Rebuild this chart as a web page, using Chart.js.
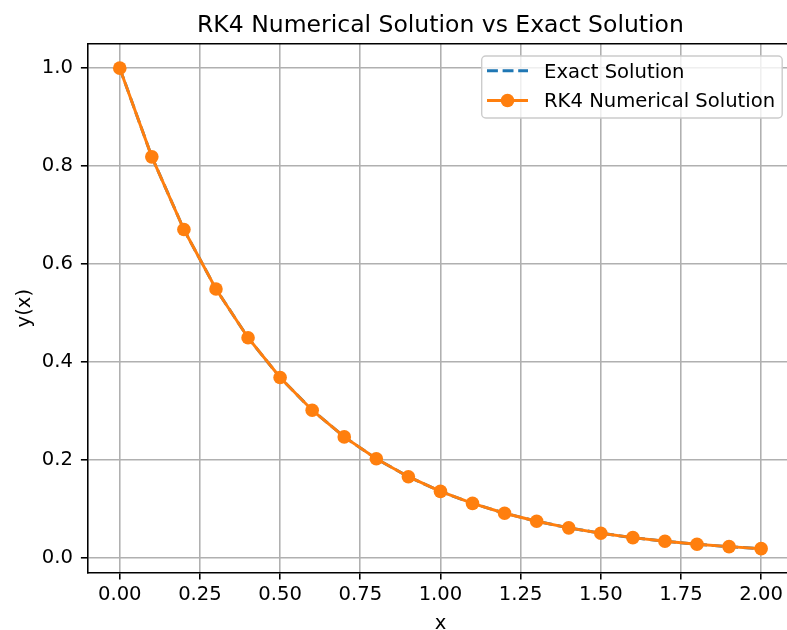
<!DOCTYPE html>
<html><head><meta charset="utf-8">
<script src="https://cdn.jsdelivr.net/npm/chart.js@4/dist/chart.umd.min.js"></script>
<style>
html,body{margin:0;padding:0;overflow:hidden;background:#fff;width:787px;height:630px}
#wrap{width:800px;height:630px}
</style>
</head><body><div id="wrap"><canvas id="c" width="800" height="630"></canvas></div>
<script>
const xValues = [0.0,0.1,0.2,0.3,0.4,0.5,0.6,0.7,0.8,0.9,1.0,1.1,1.2,1.3,1.4,1.5,1.6,1.7,1.8,1.9,2.0];
const exactValues = [1.0,0.8187,0.6703,0.5488,0.4493,0.3679,0.3012,0.2466,0.2019,0.1653,0.1353,0.1108,0.0907,0.0743,0.0608,0.0498,0.0408,0.0334,0.0273,0.0224,0.0183];
const rk4Values = [1.0,0.8187,0.6703,0.5488,0.4493,0.3679,0.3012,0.2466,0.2019,0.1653,0.1353,0.1108,0.0907,0.0743,0.0608,0.0498,0.0408,0.0334,0.0273,0.0224,0.0183];
const xTicks = [0.0,0.25,0.5,0.75,1.0,1.25,1.5,1.75,2.0];
const yTicks = [0.0,0.2,0.4,0.6,0.8,1.0];
const chartTitle = 'RK4 Numerical Solution vs Exact Solution';
const xLabel = 'x';
const yLabel = 'y(x)';
const seriesNames = ['Exact Solution','RK4 Numerical Solution'];

const FONT = 'DejaVu Sans';
const FS = 19.6;
const LW = 1.57;

const overlay = {
  id: 'overlay',
  afterDraw(chart) {
    const ctx = chart.ctx, a = chart.chartArea;
    ctx.save();
    // top spine
    ctx.strokeStyle = '#000'; ctx.lineWidth = LW;
    ctx.beginPath();
    ctx.moveTo(a.left, a.top); ctx.lineTo(a.right, a.top);
    ctx.stroke();
    // title
    ctx.fillStyle = '#000';
    ctx.font = '23.5px "' + FONT + '"';
    ctx.textAlign = 'center'; ctx.textBaseline = 'alphabetic';
    ctx.fillText(chartTitle, (a.left + a.right) / 2, 32.3);
    // legend
    const bx = 481.7, by = 56, bw = a.right - 11 - bx, bh = 62, r = 4;
    ctx.beginPath();
    ctx.moveTo(bx + r, by);
    ctx.arcTo(bx + bw, by, bx + bw, by + bh, r);
    ctx.arcTo(bx + bw, by + bh, bx, by + bh, r);
    ctx.arcTo(bx, by + bh, bx, by, r);
    ctx.arcTo(bx, by, bx + bw, by, r);
    ctx.closePath();
    ctx.fillStyle = 'rgba(255,255,255,0.8)';
    ctx.fill();
    ctx.strokeStyle = '#cccccc'; ctx.lineWidth = 1.4;
    ctx.stroke();
    const rows = [70.7, 100.5];
    chart.data.datasets.forEach((ds, i) => {
      const y = rows[i];
      ctx.strokeStyle = ds.borderColor; ctx.lineWidth = ds.borderWidth;
      ctx.setLineDash(ds.borderDash || []);
      ctx.beginPath(); ctx.moveTo(487, y); ctx.lineTo(528, y); ctx.stroke();
      ctx.setLineDash([]);
      if (ds.pointRadius > 0) {
        ctx.fillStyle = ds.pointBackgroundColor;
        ctx.beginPath(); ctx.arc(507.5, y, ds.pointRadius, 0, Math.PI * 2); ctx.fill();
      }
      ctx.fillStyle = '#000';
      ctx.font = FS + 'px "' + FONT + '"';
      ctx.textAlign = 'left'; ctx.textBaseline = 'alphabetic';
      ctx.fillText(ds.label, 544, y + 6.8);
    });
    ctx.restore();
  }
};

new Chart(document.getElementById('c'), {
  type: 'line',
  data: {
    datasets: [
      {
        label: seriesNames[0],
        data: xValues.map((x, i) => ({x: x, y: exactValues[i]})),
        borderColor: '#1f77b4', borderWidth: 2.94, borderDash: [10.9, 4.7],
        pointRadius: 0, fill: false, tension: 0, order: 1
      },
      {
        label: seriesNames[1],
        data: xValues.map((x, i) => ({x: x, y: rk4Values[i]})),
        borderColor: '#ff7f0e', borderWidth: 2.94,
        pointRadius: 6.8, pointBackgroundColor: '#ff7f0e', pointBorderWidth: 0,
        pointHoverRadius: 6.8, fill: false, tension: 0, order: 0
      }
    ]
  },
  options: {
    responsive: false, animation: false, events: [],
    layout: {padding: {left: 0, top: 43.7, right: 4, bottom: 0}},
    plugins: {legend: {display: false}, tooltip: {enabled: false}, title: {display: false}},
    scales: {
      x: {
        type: 'linear', position: 'bottom', min: -0.1, max: 2.1,
        afterBuildTicks: s => { s.ticks = xTicks.map(v => ({value: v})); },
        afterFit: s => { s.height = 57.3; },
        grid: {color: '#b0b0b0', lineWidth: LW, tickColor: '#000', tickLength: 6.8, tickWidth: LW, drawTicks: true},
        border: {color: '#000', width: LW},
        ticks: {color: '#000', font: {family: FONT, size: FS}, padding: 3.5, maxRotation: 0, autoSkip: false,
                callback: v => Number(v).toFixed(2)},
        title: {display: true, text: xLabel, color: '#000', font: {family: FONT, size: FS, lineHeight: 0.6}, padding: {top: 0, bottom: 0}}
      },
      y: {
        type: 'linear', position: 'left', min: -0.0308, max: 1.0499,
        afterBuildTicks: s => { s.ticks = yTicks.map(v => ({value: v})); },
        afterFit: s => { s.width = 87.7; },
        grid: {color: '#b0b0b0', lineWidth: LW, tickColor: '#000', tickLength: 6.8, tickWidth: LW, drawTicks: true},
        border: {color: '#000', width: LW},
        ticks: {color: '#000', font: {family: FONT, size: FS}, padding: 8, autoSkip: false,
                callback: v => Number(v).toFixed(1)},
        title: {display: true, text: yLabel, color: '#000', font: {family: FONT, size: FS, lineHeight: 0.6}, padding: {top: 19.1, bottom: 0}}
      }
    }
  },
  plugins: [overlay]
});
</script>
</body></html>
